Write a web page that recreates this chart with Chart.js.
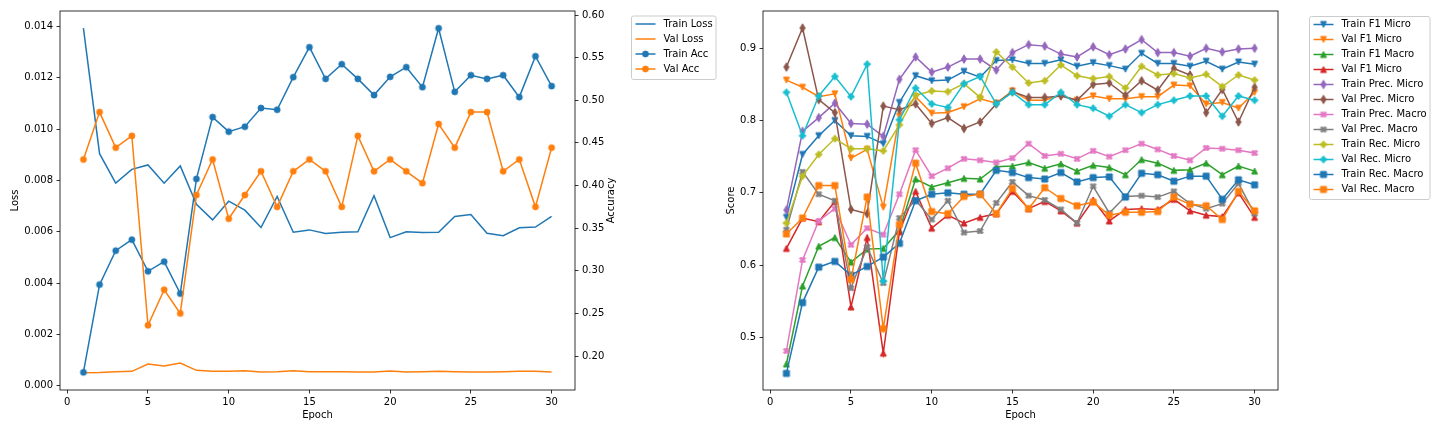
<!DOCTYPE html>
<html><head><meta charset="utf-8">
<script src="https://cdn.jsdelivr.net/npm/chart.js@4.4.0/dist/chart.umd.min.js"></script>
<style>
html,body{margin:0;padding:0;background:#fff;}
#wrap{position:relative;width:1440px;height:432px;overflow:hidden;background:#fff;}
canvas{position:absolute;top:0;}
#c1{left:0;} #c2{left:720px;}
</style></head><body>
<div id="wrap"><canvas id="c1" width="720" height="432"></canvas><canvas id="c2" width="720" height="432"></canvas></div>
<script>
// ---------- data ----------
const epochs = [1,2,3,4,5,6,7,8,9,10,11,12,13,14,15,16,17,18,19,20,21,22,23,24,25,26,27,28,29,30];
const epochTicks = [0,5,10,15,20,25,30];
const lossTicks = [0.000,0.002,0.004,0.006,0.008,0.010,0.012,0.014];
const accTicks = [0.20,0.25,0.30,0.35,0.40,0.45,0.50,0.55,0.60];
const scoreTicks = [0.5,0.6,0.7,0.8,0.9];

const trainLoss = [0.01393,0.00904,0.00789,0.00843,0.00860,0.00789,0.00856,0.00707,0.00646,0.00719,0.00684,0.00616,0.00737,0.00598,0.00607,0.00593,0.00598,0.00600,0.00740,0.00577,0.00600,0.00597,0.00598,0.00659,0.00667,0.00594,0.00584,0.00615,0.00618,0.00660];
const valLoss = [0.000507,0.000515,0.000546,0.000560,0.000846,0.000768,0.000885,0.000600,0.000561,0.000561,0.000585,0.000534,0.000546,0.000585,0.000546,0.000546,0.000546,0.000534,0.000534,0.000573,0.000534,0.000546,0.000560,0.000546,0.000534,0.000534,0.000546,0.000560,0.000560,0.000534];
const trainAcc = [0.1809,0.2838,0.3236,0.3365,0.2994,0.3107,0.2733,0.4078,0.4803,0.4632,0.4690,0.4909,0.4889,0.5271,0.5622,0.5251,0.5423,0.5251,0.5061,0.5275,0.5388,0.5154,0.5844,0.5099,0.5294,0.5251,0.5294,0.5037,0.5517,0.5166];
const valAcc = [0.4306,0.4861,0.4444,0.4583,0.2361,0.2778,0.2500,0.3889,0.4306,0.3611,0.3889,0.4167,0.3750,0.4167,0.4306,0.4167,0.3750,0.4583,0.4167,0.4306,0.4167,0.4028,0.4722,0.4444,0.4861,0.4861,0.4167,0.4306,0.3750,0.4444];

const trainF1Micro = [0.666,0.753,0.779,0.800,0.779,0.778,0.768,0.825,0.862,0.855,0.856,0.868,0.860,0.883,0.884,0.879,0.879,0.884,0.875,0.880,0.876,0.871,0.893,0.879,0.879,0.875,0.882,0.871,0.881,0.878];
const valF1Micro = [0.856,0.846,0.833,0.837,0.748,0.760,0.680,0.806,0.833,0.810,0.811,0.819,0.830,0.824,0.841,0.828,0.828,0.835,0.828,0.834,0.830,0.830,0.833,0.833,0.849,0.848,0.823,0.825,0.817,0.839];
const trainF1Macro = [0.463,0.571,0.626,0.638,0.604,0.622,0.623,0.648,0.719,0.708,0.714,0.720,0.719,0.736,0.737,0.742,0.734,0.740,0.730,0.738,0.735,0.725,0.746,0.741,0.731,0.732,0.741,0.725,0.737,0.730];
const valF1Macro = [0.623,0.665,0.660,0.688,0.542,0.638,0.478,0.646,0.702,0.651,0.669,0.658,0.666,0.671,0.702,0.678,0.688,0.675,0.658,0.690,0.661,0.677,0.678,0.677,0.691,0.675,0.669,0.667,0.700,0.666];
const trainPrecMicro = [0.676,0.785,0.804,0.824,0.796,0.795,0.778,0.857,0.888,0.867,0.874,0.885,0.885,0.870,0.894,0.905,0.903,0.892,0.888,0.902,0.891,0.899,0.912,0.894,0.894,0.889,0.900,0.895,0.899,0.900];
const valPrecMicro = [0.874,0.928,0.829,0.811,0.677,0.671,0.820,0.815,0.823,0.796,0.804,0.789,0.798,0.823,0.840,0.832,0.832,0.834,0.828,0.850,0.852,0.835,0.855,0.842,0.872,0.863,0.811,0.843,0.798,0.846];
const trainPrecMacro = [0.481,0.607,0.661,0.678,0.628,0.651,0.642,0.698,0.759,0.723,0.734,0.747,0.745,0.742,0.748,0.768,0.751,0.754,0.747,0.758,0.750,0.759,0.768,0.760,0.751,0.745,0.762,0.761,0.759,0.755];
const valPrecMacro = [0.649,0.729,0.698,0.689,0.568,0.625,0.575,0.665,0.690,0.663,0.689,0.645,0.647,0.686,0.715,0.696,0.690,0.677,0.658,0.709,0.672,0.695,0.696,0.694,0.702,0.685,0.678,0.685,0.713,0.671];
const trainRecMicro = [0.658,0.723,0.753,0.775,0.761,0.761,0.758,0.794,0.835,0.841,0.840,0.851,0.832,0.895,0.874,0.852,0.855,0.877,0.862,0.858,0.861,0.845,0.875,0.863,0.865,0.859,0.864,0.847,0.863,0.856];
const valRecMicro = [0.839,0.779,0.834,0.861,0.833,0.878,0.578,0.801,0.845,0.823,0.818,0.851,0.861,0.823,0.839,0.822,0.822,0.839,0.822,0.817,0.806,0.822,0.811,0.822,0.828,0.834,0.834,0.806,0.834,0.828];
const trainRecMacro = [0.450,0.548,0.597,0.605,0.586,0.598,0.611,0.630,0.689,0.698,0.700,0.698,0.698,0.731,0.728,0.721,0.719,0.728,0.715,0.721,0.722,0.694,0.727,0.725,0.716,0.723,0.723,0.691,0.718,0.711];
const valRecMacro = [0.643,0.665,0.710,0.710,0.580,0.694,0.512,0.656,0.741,0.674,0.671,0.695,0.698,0.671,0.706,0.678,0.707,0.692,0.682,0.687,0.669,0.673,0.673,0.674,0.694,0.684,0.682,0.663,0.702,0.675];

// ---------- styles ----------
const C = {blue:'#1f77b4', orange:'#ff7f0e', green:'#2ca02c', red:'#d62728', purple:'#9467bd', brown:'#8c564b', pink:'#e377c2', grey:'#7f7f7f', olive:'#bcbd22', cyan:'#17becf'};
const FONT = "'DejaVu Sans', sans-serif";
Chart.defaults.font.family = FONT;
Chart.defaults.font.size = 10;
Chart.defaults.color = '#000';

function markerCanvas(shape, color) {
  const S = 14, c = document.createElement('canvas'); c.width = S; c.height = S;
  const g = c.getContext('2d'); const cx = S/2, cy = S/2;
  g.fillStyle = color; g.strokeStyle = color; g.lineWidth = 1; g.lineJoin = 'miter';
  g.beginPath();
  const poly = (pts, k) => { pts.forEach(([x,y],i) => i ? g.lineTo(cx+x*k, cy+y*k) : g.moveTo(cx+x*k, cy+y*k)); g.closePath(); };
  switch (shape) {
    case 'circle': g.arc(cx, cy, 3, 0, Math.PI*2); break;
    case 'triDown': poly([[-3,-3],[3,-3],[0,3]],1); break;
    case 'triUp': poly([[0,-3],[3,3],[-3,3]],1); break;
    case 'square': poly([[-3,-3],[3,-3],[3,3],[-3,3]],1); break;
    case 'thinDiamond': poly([[0,-4.24],[2.55,0],[0,4.24],[-2.55,0]],1); break;
    case 'xFilled': poly([[-1,-2],[0,-1],[1,-2],[2,-1],[1,0],[2,1],[1,2],[0,1],[-1,2],[-2,1],[-1,0],[-2,-1]],1.5); break;
    case 'plusFilled': poly([[-1,-3],[1,-3],[1,-1],[3,-1],[3,1],[1,1],[1,3],[-1,3],[-1,1],[-3,1],[-3,-1],[-1,-1]],1); break;
  }
  g.fill(); g.stroke();
  return c;
}

function series(label, values, color, marker, yAxisID, order) {
  return {
    label, yAxisID, order,
    data: epochs.map((e, i) => ({x: e, y: values[i]})),
    borderColor: color, backgroundColor: color, borderWidth: 1.5, tension: 0,
    pointStyle: marker ? markerCanvas(marker, color) : false,
    pointRadius: marker ? 3.5 : 0, pointHoverRadius: marker ? 3.5 : 0,
    fill: false
  };
}

function makeDecor(cfg) {
  return {
    id: 'decor',
    afterDraw(chart) {
      const ctx = chart.ctx, a = chart.chartArea;
      ctx.save();
      ctx.strokeStyle = '#000'; ctx.lineWidth = 0.8;
      ctx.strokeRect(a.left, a.top, a.right - a.left, a.bottom - a.top);
      if (cfg.rightTitle) {
        ctx.save();
        ctx.translate(cfg.rightTitle.x, (a.top + a.bottom) / 2);
        ctx.rotate(-Math.PI / 2);
        ctx.font = '10px ' + FONT; ctx.fillStyle = '#000';
        ctx.textAlign = 'center'; ctx.textBaseline = 'middle';
        ctx.fillText(cfg.rightTitle.text, 0, 0);
        ctx.restore();
      }
      const L = cfg.legend;
      if (L) {
        ctx.fillStyle = 'rgba(255,255,255,0.8)'; ctx.strokeStyle = '#cccccc'; ctx.lineWidth = 1;
        ctx.beginPath();
        if (ctx.roundRect) ctx.roundRect(L.x, L.y, L.w, L.h, 2); else ctx.rect(L.x, L.y, L.w, L.h);
        ctx.fill(); ctx.stroke();
        chart.data.datasets.forEach((d, i) => {
          const cy = L.firstY + i * 15;
          ctx.strokeStyle = d.borderColor; ctx.lineWidth = 1.5; ctx.lineCap = 'butt';
          ctx.beginPath(); ctx.moveTo(L.hx0, cy); ctx.lineTo(L.hx1, cy); ctx.stroke();
          if (d.pointStyle) {
            const m = d.pointStyle;
            ctx.drawImage(m, (L.hx0 + L.hx1) / 2 - m.width / 2, cy - m.height / 2);
          }
          ctx.fillStyle = '#000'; ctx.font = '10px ' + FONT;
          ctx.textAlign = 'left'; ctx.textBaseline = 'middle';
          ctx.fillText(d.label, L.tx, cy);
        });
      }
      ctx.restore();
    }
  };
}

const tickGrid = {display: true, drawOnChartArea: false, drawTicks: true, tickLength: 3.5, tickWidth: 0.8, tickColor: '#000'};
const noBorder = {display: false};
const fixedTicks = arr => s => { s.ticks = arr.map(v => ({value: v})); };

function xScale() {
  return {
    type: 'linear', min: -0.45, max: 31.45,
    afterBuildTicks: fixedTicks(epochTicks), afterFit: s => { s.height = 35; },
    grid: tickGrid, border: noBorder,
    ticks: {padding: 2.5, maxRotation: 0, autoSkip: false, callback: v => String(v)},
    title: {display: true, text: 'Epoch', padding: {top: 4, bottom: 4}}
  };
}

// ---------- left chart ----------
const leftSets = [
  series('Train Loss', trainLoss, C.blue, null, 'y', 4),
  series('Val Loss', valLoss, C.orange, null, 'y', 3),
  series('Train Acc', trainAcc, C.blue, 'circle', 'y1', 2),
  series('Val Acc', valAcc, C.orange, 'circle', 'y1', 1)
];
new Chart(document.getElementById('c1'), {
  type: 'line',
  data: {datasets: leftSets},
  options: {
    responsive: false, animation: false,
    layout: {padding: {left: 5, top: 11, right: 105, bottom: 7}},
    plugins: {legend: {display: false}, tooltip: {enabled: false}},
    scales: {
      x: xScale(),
      y: {
        position: 'left', min: -0.000167, max: 0.014597,
        afterBuildTicks: fixedTicks(lossTicks), afterFit: s => { s.width = 55; },
        grid: tickGrid, border: noBorder,
        ticks: {padding: 3.5, callback: v => v.toFixed(3)},
        title: {display: true, text: 'Loss', padding: {top: 4, bottom: 4}}
      },
      y1: {
        position: 'right', min: 0.1602, max: 0.6047,
        afterBuildTicks: fixedTicks(accTicks), afterFit: s => { s.width = 40; },
        grid: tickGrid, border: noBorder,
        ticks: {padding: 3.5, callback: v => v.toFixed(2)}
      }
    }
  },
  plugins: [makeDecor({
    rightTitle: {text: 'Accuracy', x: 611.7},
    legend: {x: 631.5, y: 16, w: 84.5, h: 63.5, hx0: 635.5, hx1: 655.5, tx: 663.5, firstY: 24}
  })]
});

// ---------- right chart ----------
const rightSets = [
  series('Train F1 Micro', trainF1Micro, C.blue, 'triDown', 'y', 12),
  series('Val F1 Micro', valF1Micro, C.orange, 'triDown', 'y', 11),
  series('Train F1 Macro', trainF1Macro, C.green, 'triUp', 'y', 10),
  series('Val F1 Micro', valF1Macro, C.red, 'triUp', 'y', 9),
  series('Train Prec. Micro', trainPrecMicro, C.purple, 'thinDiamond', 'y', 8),
  series('Val Prec. Micro', valPrecMicro, C.brown, 'thinDiamond', 'y', 7),
  series('Train Prec. Macro', trainPrecMacro, C.pink, 'xFilled', 'y', 6),
  series('Val Prec. Macro', valPrecMacro, C.grey, 'xFilled', 'y', 5),
  series('Train Rec. Micro', trainRecMicro, C.olive, 'plusFilled', 'y', 4),
  series('Val Rec. Micro', valRecMicro, C.cyan, 'plusFilled', 'y', 3),
  series('Train Rec. Macro', trainRecMacro, C.blue, 'square', 'y', 2),
  series('Val Rec. Macro', valRecMacro, C.orange, 'square', 'y', 1)
];
new Chart(document.getElementById('c2'), {
  type: 'line',
  data: {datasets: rightSets},
  options: {
    responsive: false, animation: false,
    layout: {padding: {left: 1, top: 11, right: 162, bottom: 7}},
    plugins: {legend: {display: false}, tooltip: {enabled: false}},
    scales: {
      x: xScale(),
      y: {
        position: 'left', min: 0.4270, max: 0.9516,
        afterBuildTicks: fixedTicks(scoreTicks), afterFit: s => { s.width = 42; },
        grid: tickGrid, border: noBorder,
        ticks: {padding: 3.5, callback: v => v.toFixed(1)},
        title: {display: true, text: 'Score', padding: {top: 4, bottom: 4}}
      }
    }
  },
  plugins: [makeDecor({
    legend: {x: 589.5, y: 16.5, w: 120.5, h: 183, hx0: 593.5, hx1: 613.5, tx: 621.5, firstY: 24.5}
  })]
});
</script>
</body></html>
